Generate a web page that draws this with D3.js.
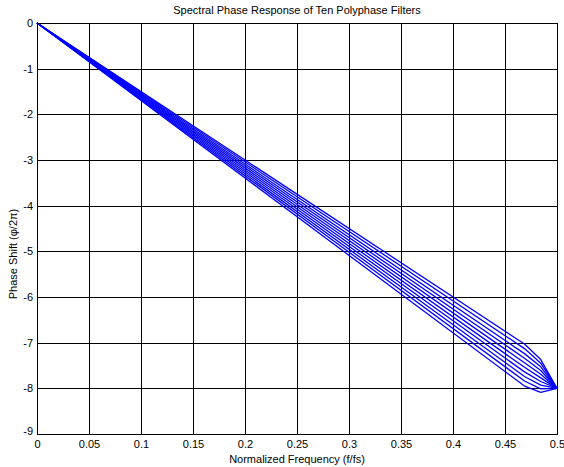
<!DOCTYPE html>
<html>
<head>
<meta charset="utf-8">
<script src="https://d3js.org/d3.v7.min.js"></script>
<style>
  body { margin: 0; background: #fff; }
  svg { display: block; font-family: "Liberation Sans", Arial, sans-serif; }
</style>
</head>
<body>
<svg id="chart"></svg>
<script>
// frequency points (f/fs) where the curves were read
const freqs = [0, 0.46875, 0.484375, 0.5];

// phase (cycles) of each of the ten polyphase filters at those points
const filter1  = [0, -7.03, -7.37, -8];
const filter2  = [0, -7.13, -7.45, -8];
const filter3  = [0, -7.24, -7.53, -8];
const filter4  = [0, -7.34, -7.61, -8];
const filter5  = [0, -7.44, -7.69, -8];
const filter6  = [0, -7.54, -7.77, -8];
const filter7  = [0, -7.64, -7.85, -8];
const filter8  = [0, -7.74, -7.93, -8];
const filter9  = [0, -7.84, -8.01, -8];
const filter10 = [0, -7.95, -8.09, -8];
const filters = [filter1, filter2, filter3, filter4, filter5,
                 filter6, filter7, filter8, filter9, filter10];

const xTicks = [0, 0.05, 0.1, 0.15, 0.2, 0.25, 0.3, 0.35, 0.4, 0.45, 0.5];
const yTicks = [0, -1, -2, -3, -4, -5, -6, -7, -8, -9];

const width = 564, height = 467;
const margin = {left: 37, right: 7, top: 23, bottom: 33};

const svg = d3.select("#chart")
    .attr("width", width)
    .attr("height", height);

const xScale = d3.scaleLinear()
    .domain([0, 0.5])
    .range([margin.left, width - margin.right]);
const yScale = d3.scaleLinear()
    .domain([-9, 0])
    .range([height - margin.bottom, margin.top]);

// grid
const grid = svg.append("g").attr("shape-rendering", "crispEdges");
grid.selectAll(".vgrid").data(xTicks.slice(1, -1))
    .enter().append("line")
    .attr("class", "vgrid")
    .attr("x1", d => Math.round(xScale(d)) + 0.5)
    .attr("x2", d => Math.round(xScale(d)) + 0.5)
    .attr("y1", yScale(0))
    .attr("y2", yScale(-9))
    .attr("stroke", "#000")
    .attr("stroke-width", 1);
grid.selectAll(".hgrid").data(yTicks.slice(1, -1))
    .enter().append("line")
    .attr("class", "hgrid")
    .attr("y1", d => Math.round(yScale(d)) + 0.5)
    .attr("y2", d => Math.round(yScale(d)) + 0.5)
    .attr("x1", xScale(0))
    .attr("x2", xScale(0.5))
    .attr("stroke", "#000")
    .attr("stroke-width", 1);

// curves
const line = d3.line()
    .x((d, i) => xScale(freqs[i]))
    .y(d => yScale(d));

svg.append("g").selectAll("path").data(filters)
    .enter().append("path")
    .attr("d", line)
    .attr("fill", "none")
    .attr("stroke", "#0000ff")
    .attr("stroke-width", 1.3)
    .attr("stroke-linejoin", "round");

// box
svg.append("rect")
    .attr("x", xScale(0) + 0.5)
    .attr("y", yScale(0) + 0.5)
    .attr("width", xScale(0.5) - xScale(0))
    .attr("height", yScale(-9) - yScale(0))
    .attr("fill", "none")
    .attr("stroke", "#000")
    .attr("shape-rendering", "crispEdges");

// axes (labels only, ticks hidden under grid)
const xAxis = d3.axisBottom(xScale)
    .tickValues(xTicks)
    .tickSize(0)
    .tickPadding(6)
    .tickFormat(d => String(d));
svg.append("g")
    .attr("transform", "translate(0," + yScale(-9) + ")")
    .call(xAxis)
    .call(g => g.select(".domain").remove())
    .selectAll("text")
    .style("font-size", "11px")
    .attr("fill", "#000");

const yAxis = d3.axisLeft(yScale)
    .tickValues(yTicks)
    .tickSize(0)
    .tickPadding(4)
    .tickFormat(d => String(d));
svg.append("g")
    .attr("transform", "translate(" + xScale(0) + ",0)")
    .call(yAxis)
    .call(g => g.select(".domain").remove())
    .selectAll("text")
    .style("font-size", "11px")
    .attr("fill", "#000")
    .attr("dy", d => d === -9 ? "0" : "0.32em");

// labels
svg.append("text")
    .attr("x", (xScale(0) + xScale(0.5)) / 2)
    .attr("y", 14)
    .attr("text-anchor", "middle")
    .style("font-size", "11px")
    .text("Spectral Phase Response of Ten Polyphase Filters");

svg.append("text")
    .attr("x", (xScale(0) + xScale(0.5)) / 2)
    .attr("y", 463)
    .attr("text-anchor", "middle")
    .style("font-size", "11px")
    .text("Normalized Frequency (f/fs)");

svg.append("text")
    .attr("transform", "translate(17,254) rotate(-90)")
    .attr("text-anchor", "middle")
    .style("font-size", "11px")
    .text("Phase Shift (\u03c6/2\u03c0)");
</script>
</body>
</html>
